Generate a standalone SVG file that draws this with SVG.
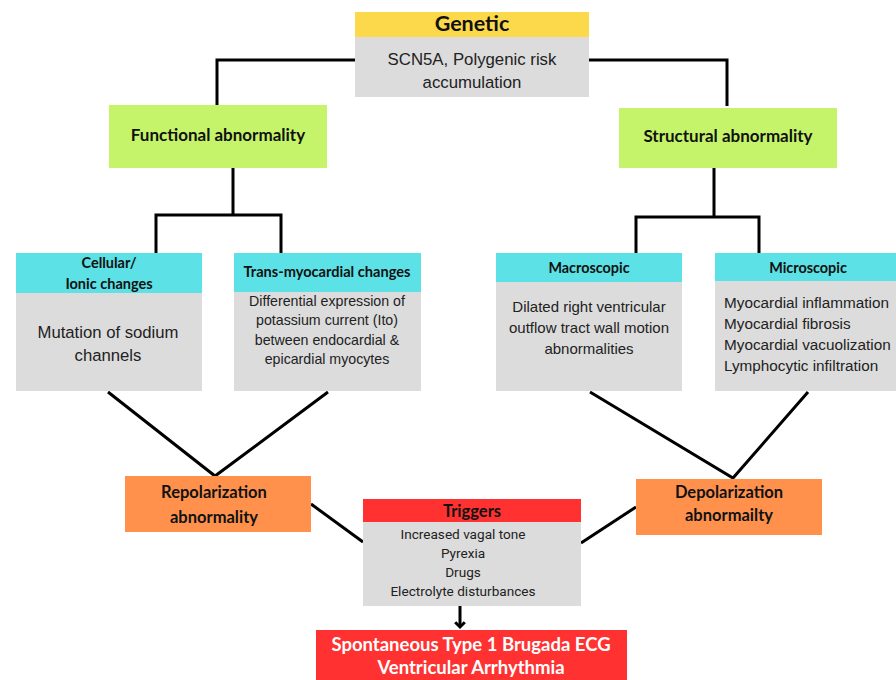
<svg xmlns="http://www.w3.org/2000/svg" width="896" height="680" viewBox="0 0 896 680">
<defs>
<style>
.hd{font-family:"Lato","Open Sans",sans-serif;font-weight:bold;fill:#111;text-anchor:middle}
.bd{font-family:"Liberation Sans",Arial,sans-serif;fill:#222;text-anchor:middle}
.lt{font-family:"Liberation Sans",Arial,sans-serif;fill:#222;text-anchor:start}
.wt{fill:#fff}
.tr{font-family:"Roboto","Liberation Sans",sans-serif;fill:#222;text-anchor:middle;font-size:13.6px}
.gray{fill:#dcdcdc}
.cyan{fill:#5ce1e6}
.green{fill:#c5f46b}
.orange{fill:#ff914d}
.red{fill:#ff3131}
.ln{stroke:#000;stroke-width:3;fill:none}
</style>
<marker id="arr" viewBox="0 0 10 10" refX="5" refY="5" markerWidth="4" markerHeight="4" orient="auto">
<path d="M1,1 L5,5 L1,9" stroke="#000" stroke-width="2.5" fill="none"/>
</marker>
</defs>
<rect width="896" height="680" fill="#fff"/>
<g id="connectors">
<path class="ln" d="M355,60 H217 V106"/>
<path class="ln" d="M589,60 H727 V106"/>
<path class="ln" d="M233,168 V215 M156,253 V215 H281 V253"/>
<path class="ln" d="M714,168 V217 M636,253 V217 H759 V253"/>
<path class="ln" d="M108,392 L215,476 L328,392"/>
<path class="ln" d="M590,392 L733,478 L808,392"/>
<path class="ln" d="M311,504 L363,542"/>
<path class="ln" d="M581,543 L636,507"/>
<path class="ln" d="M460,606 V627" marker-end="url(#arr)"/>
</g>
<g id="genetic">
<rect x="355" y="12" width="234" height="25" fill="#fcd94a"/>
<rect class="gray" x="355" y="37" width="234" height="60"/>
<text class="hd" x="472" y="31" font-size="21.5">Genetic</text>
<text class="bd" x="472" y="65" font-size="16.8">SCN5A, Polygenic risk</text>
<text class="bd" x="472" y="88" font-size="16.8">accumulation</text>
</g>
<g id="functional">
<rect class="green" x="109" y="105" width="218" height="63"/>
<text class="hd" x="218" y="141" font-size="17">Functional abnormality</text>
</g>
<g id="structural">
<rect class="green" x="619" y="108" width="218" height="60"/>
<text class="hd" x="728" y="142" font-size="17">Structural abnormality</text>
</g>
<g id="cellular">
<rect class="cyan" x="16" y="253" width="186" height="40"/>
<rect class="gray" x="16" y="293" width="186" height="98"/>
<text class="hd" x="109" y="268" font-size="14.5">Cellular/</text>
<text class="hd" x="109" y="289" font-size="14.5">Ionic changes</text>
<text class="bd" x="108" y="338" font-size="16.7">Mutation of sodium</text>
<text class="bd" x="108" y="361" font-size="16.7">channels</text>
</g>
<g id="transmyocardial">
<rect class="cyan" x="234" y="253" width="187" height="39"/>
<rect class="gray" x="234" y="292" width="187" height="99"/>
<text class="hd" x="327" y="277" font-size="14.6">Trans-myocardial changes</text>
<text class="bd" x="327" y="306" font-size="14.2">Differential expression of</text>
<text class="bd" x="327" y="325" font-size="14.2">potassium current (Ito)</text>
<text class="bd" x="327" y="345" font-size="14.2">between endocardial &amp;</text>
<text class="bd" x="327" y="364" font-size="14.2">epicardial myocytes</text>
</g>
<g id="macroscopic">
<rect class="cyan" x="496" y="253" width="186" height="29"/>
<rect class="gray" x="496" y="282" width="186" height="109"/>
<text class="hd" x="589" y="273" font-size="14.4">Macroscopic</text>
<text class="bd" x="589" y="312" font-size="15">Dilated right ventricular</text>
<text class="bd" x="589" y="333" font-size="15">outflow tract wall motion</text>
<text class="bd" x="589" y="354" font-size="15">abnormalities</text>
</g>
<g id="microscopic">
<rect class="cyan" x="715" y="253" width="181" height="28"/>
<rect class="gray" x="715" y="281" width="181" height="110"/>
<text class="hd" x="808" y="273" font-size="14.4">Microscopic</text>
<text class="lt" x="724" y="308" font-size="15.3">Myocardial inflammation</text>
<text class="lt" x="724" y="329" font-size="15.3">Myocardial fibrosis</text>
<text class="lt" x="724" y="350" font-size="15.3">Myocardial vacuolization</text>
<text class="lt" x="724" y="371" font-size="15.3">Lymphocytic infiltration</text>
</g>
<g id="repolarization">
<rect class="orange" x="125" y="476" width="186" height="56"/>
<text class="hd" x="214" y="498" font-size="16.5">Repolarization</text>
<text class="hd" x="214" y="523" font-size="16.5">abnormality</text>
</g>
<g id="depolarization">
<rect class="orange" x="636" y="479" width="186" height="56"/>
<text class="hd" x="729" y="498" font-size="16.5">Depolarization</text>
<text class="hd" x="729" y="521" font-size="16.5">abnormailty</text>
</g>
<g id="triggers">
<rect class="red" x="363" y="499" width="218" height="23"/>
<rect class="gray" x="363" y="522" width="218" height="84"/>
<text class="hd" x="472" y="517" font-size="16.5">Triggers</text>
<text class="tr" x="463" y="539">Increased vagal tone</text>
<text class="tr" x="463" y="558">Pyrexia</text>
<text class="tr" x="463" y="577">Drugs</text>
<text class="tr" x="463" y="596">Electrolyte disturbances</text>
</g>
<g id="outcome">
<rect class="red" x="316" y="630" width="311" height="50"/>
<text class="hd wt" x="471" y="651" font-size="18.5">Spontaneous Type 1 Brugada ECG</text>
<text class="hd wt" x="471" y="674" font-size="18.5">Ventricular Arrhythmia</text>
</g>
</svg>
